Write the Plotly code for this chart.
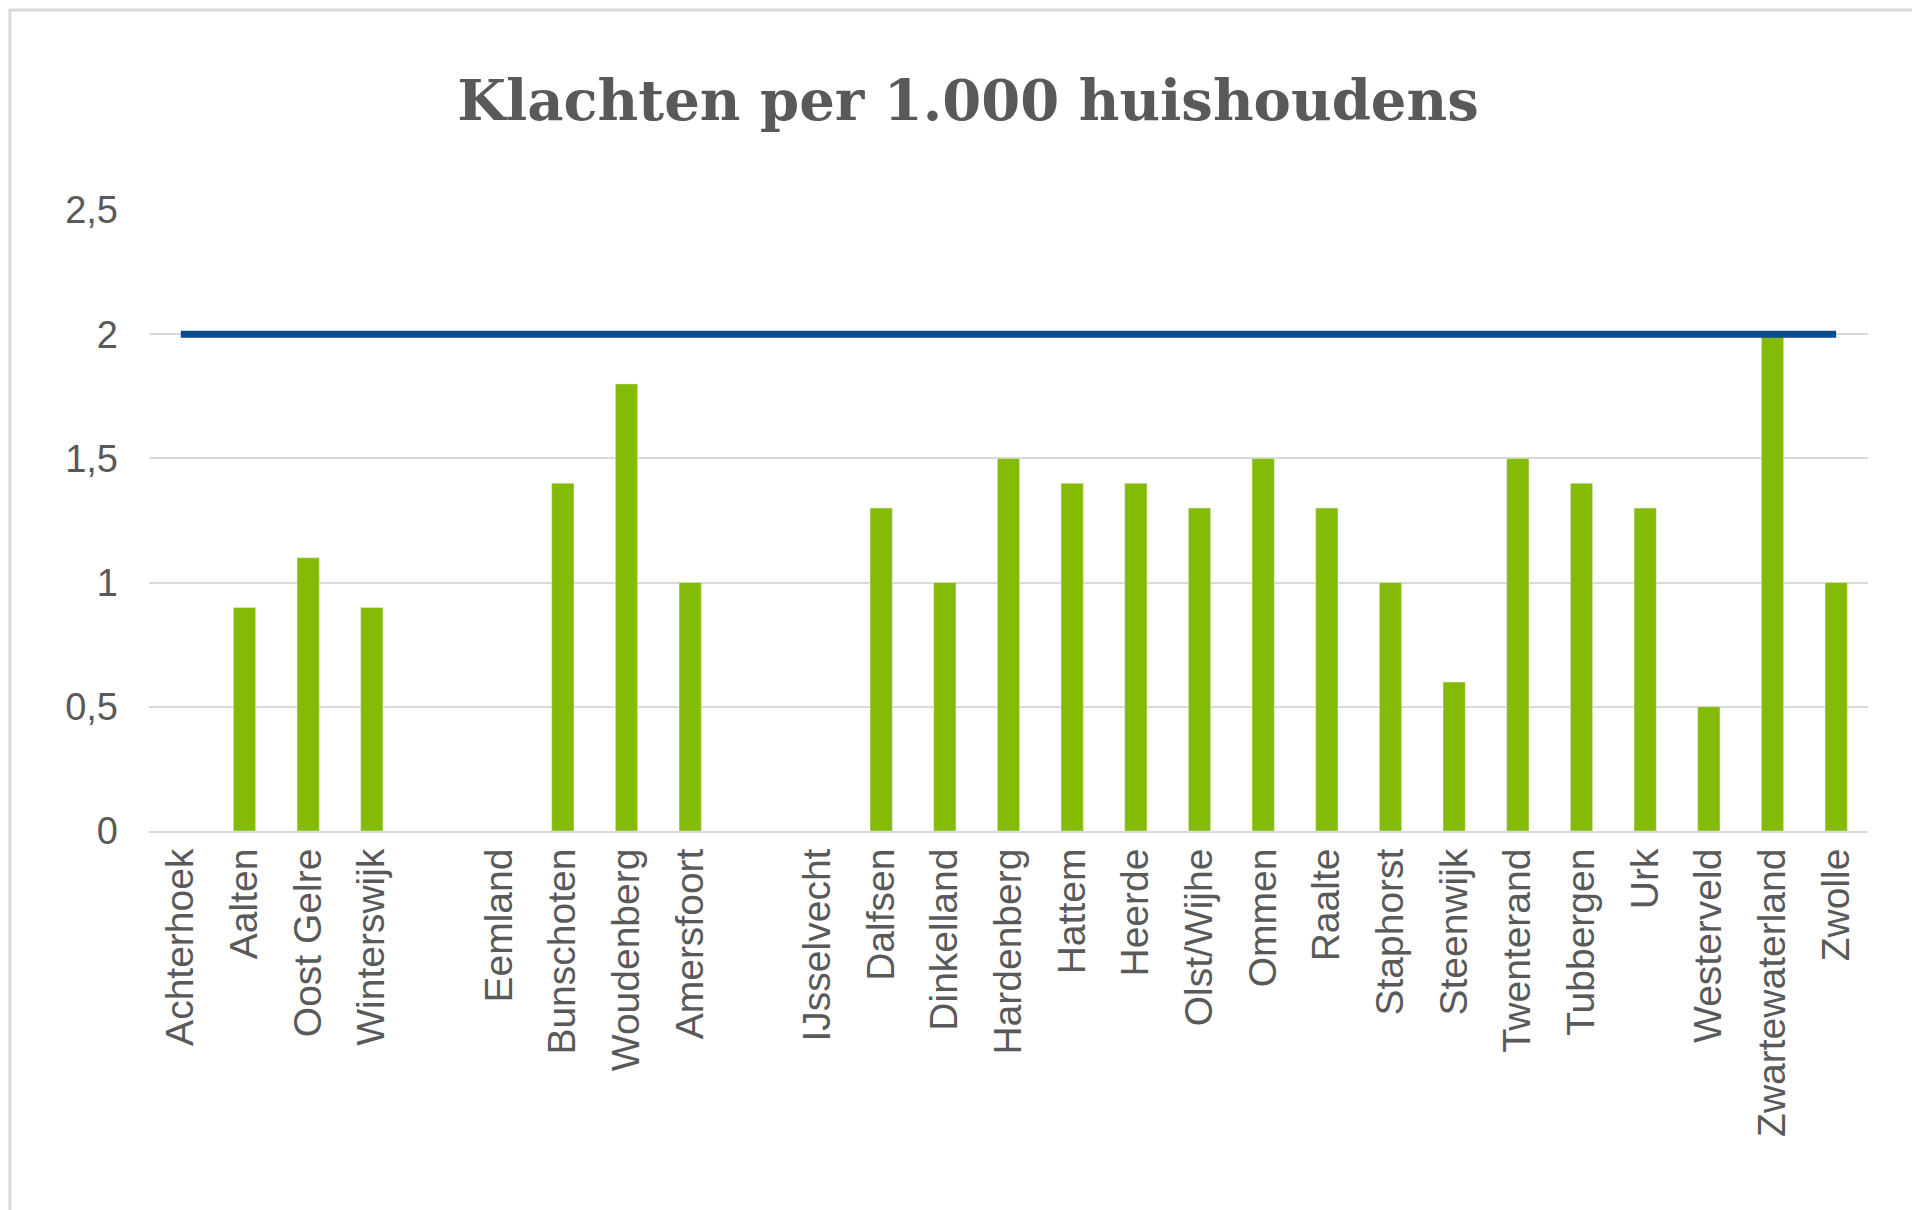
import plotly.graph_objects as go

gemeenten = ["Achterhoek", "Aalten", "Oost Gelre", "Winterswijk", " ",
             "Eemland", "Bunschoten", "Woudenberg", "Amersfoort", "  ",
             "IJsselvecht", "Dalfsen", "Dinkelland", "Hardenberg", "Hattem",
             "Heerde", "Olst/Wijhe", "Ommen", "Raalte", "Staphorst",
             "Steenwijk", "Twenterand", "Tubbergen", "Urk", "Westerveld",
             "Zwartewaterland", "Zwolle"]
klachten = [None, 0.9, 1.1, 0.9, None,
            None, 1.4, 1.8, 1.0, None,
            None, 1.3, 1.0, 1.5, 1.4,
            1.4, 1.3, 1.5, 1.3, 1.0,
            0.6, 1.5, 1.4, 1.3, 0.5,
            2.0, 1.0]
norm = [2] * len(gemeenten)

y_ticks = [0, 0.5, 1, 1.5, 2, 2.5]
y_labels = ["0", "0,5", "1", "1,5", "2", "2,5"]

fig = go.Figure()
fig.add_trace(go.Bar(x=gemeenten, y=klachten, marker_color="#84bb07", width=0.35))
fig.add_trace(go.Scatter(x=gemeenten, y=norm, mode="lines",
                         line=dict(color="#0b4a8b", width=7)))

fig.update_layout(
    width=1920, height=1210,
    paper_bgcolor="white", plot_bgcolor="white",
    showlegend=False,
    margin=dict(l=141, r=60, t=202, b=387),
    title=dict(text="<b>Klachten per 1.000 huishoudens</b>", x=0.5, xanchor="center",
               y=0.924, yanchor="middle",
               font=dict(family="DejaVu Serif", size=56, color="#595959")),
    font=dict(family="Liberation Sans", color="#595959", size=38),
    shapes=[dict(type="rect", xref="paper", yref="paper", x0=-0.0809, x1=1.0337,
                 y0=-0.620, y1=1.322, line=dict(color="#d9d9d9", width=3))],
)
fig.update_xaxes(tickangle=-90, showgrid=False, showline=True, linecolor="#d9d9d9",
                 linewidth=2, ticks="", tickfont=dict(size=39, color="#595959"))
fig.update_yaxes(range=[0, 2.5], tickvals=y_ticks, ticktext=y_labels,
                 showgrid=True, gridcolor="#d9d9d9", gridwidth=2, zeroline=False,
                 ticks="", ticklabelstandoff=30,
                 tickfont=dict(size=38, color="#595959"))

fig.write_html("out.html")
